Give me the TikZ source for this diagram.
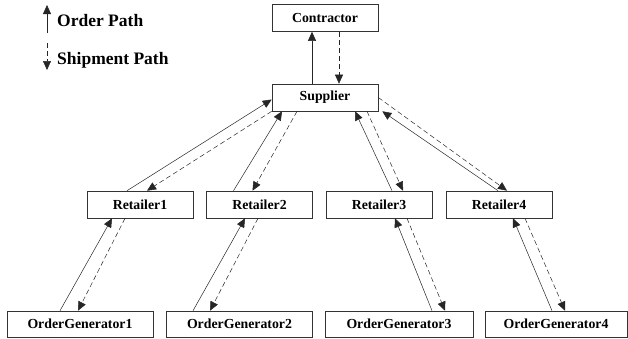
\documentclass[tikz,border=0pt]{standalone}
\usepackage{fontspec}
\setmainfont{Liberation Serif}
\usetikzlibrary{arrows.meta}
\tikzset{
  box/.style     = {draw=black!80, line width=0.6pt, inner sep=0pt, fill=white,
                    minimum width=106pt, minimum height=27pt,
                    font=\fontsize{13.8}{15}\selectfont\bfseries},
  genbox/.style  = {box, minimum width=146pt, minimum height=26pt},
  legend/.style  = {anchor=west, inner sep=0pt,
                    font=\fontsize{17.5}{20}\selectfont\bfseries},
  order/.style   = {-{Triangle[length=9pt, width=8pt]}, line width=0.5pt, black!85},
  ship/.style    = {order, dash pattern=on 5pt off 3pt},
}

\begin{document}
\begin{tikzpicture}[x=1pt, y=-1pt]
  \useasboundingbox (0,0) rectangle (628,338);

  % legend
  \coordinate (olow) at (47,33);
  \coordinate (ohigh) at (47,5);
  \coordinate (stop) at (47,43);
  \coordinate (sbot) at (47,70);
  \draw[order] (olow) -- (ohigh);
  \draw[ship] (stop) -- (sbot);
  \node[legend] (lorder) at (57,21) {Order Path};
  \node[legend] (lship) at (57,60) {Shipment Path};

  % nodes
  \node[box] (con) at (325,18) {Contractor};
  \node[box] (sup) at (325,97.5) {Supplier};

  \node[box] (r1) at (140,204.5) {Retailer1};
  \node[box] (r2) at (259.5,204.5) {Retailer2};
  \node[box] (r3) at (379,204.5) {Retailer3};
  \node[box] (r4) at (499,204.5) {Retailer4};

  \node[genbox] (og1) at (80,324) {OrderGenerator1};
  \node[genbox] (og2) at (239.5,324) {OrderGenerator2};
  \node[genbox, minimum width=148pt] (og3) at (399,324) {OrderGenerator3};
  \node[genbox, minimum width=142pt] (og4) at (556,324) {OrderGenerator4};

  % supplier <-> contractor
  \draw[order] ([xshift=-13pt]sup.north) -- ([xshift=-13pt]con.south);
  \draw[ship] ([xshift=14pt]con.south) -- ([xshift=14pt]sup.north);

  % retailers <-> supplier
  \draw[order] ([xshift=-13pt]r1.north) -- ([yshift=-2pt]sup.west);
  \draw[ship] (sup.south west) -- ([xshift=7pt]r1.north);
  \draw[order] ([xshift=-26pt]r2.north) -- ([xshift=-43pt]sup.south);
  \draw[ship] ([xshift=-28pt]sup.south) -- ([xshift=-7pt]r2.north);
  \draw[order] ([xshift=13pt]r3.north) -- ([xshift=30pt]sup.south);
  \draw[ship] ([xshift=42pt]sup.south) -- ([xshift=24pt]r3.north);
  \draw[order] ([xshift=-1pt]r4.north) -- ([xshift=4pt]sup.south east);
  \draw[ship] (sup.east) -- ([xshift=8pt]r4.north);

  % order generators <-> retailers
  \draw[order] ([xshift=-20pt]og1.north) -- ([xshift=-28pt]r1.south);
  \draw[ship] ([xshift=-15pt]r1.south) -- ([xshift=-2pt]og1.north);
  \draw[order] ([xshift=-46.5pt]og2.north) -- ([xshift=-14.5pt]r2.south);
  \draw[ship] ([xshift=-1.5pt]r2.south) -- ([xshift=-29.5pt]og2.north);
  \draw[order] ([xshift=33pt]og3.north) -- ([xshift=16pt]r3.south);
  \draw[ship] ([xshift=28pt]r3.south) -- ([xshift=46pt]og3.north);
  \draw[order] ([xshift=-4pt]og4.north) -- ([xshift=14pt]r4.south);
  \draw[ship] ([xshift=26pt]r4.south) -- ([xshift=9pt]og4.north);
\end{tikzpicture}
\end{document}
